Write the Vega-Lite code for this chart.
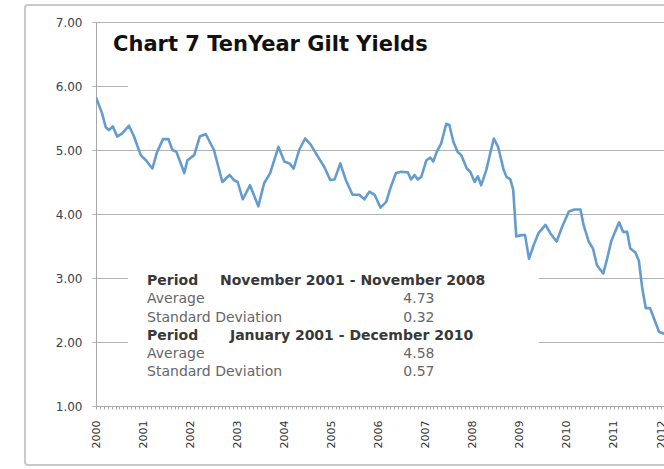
{
  "$schema": "https://vega.github.io/schema/vega-lite/v6.json",
  "autosize": {"type": "none"},
  "padding": {"left": 96, "top": 22, "right": 0, "bottom": 63},
  "width": 568,
  "height": 384,
  "background": "white",
  "config": {
    "view": {"stroke": null},
    "axis": {"labelFont": "DejaVu Sans", "titleFont": "DejaVu Sans"}
  },
  "encoding": {
    "x": {
      "type": "temporal",
      "scale": {"domain": [{"year": 2000, "month": 1, "date": 1}, {"year": 2012, "month": 1, "date": 24}], "nice": false},
      "axis": {
        "title": null,
        "orient": "bottom",
        "tickCount": {"interval": "month", "step": 1},
        "labelExpr": "month(datum.value) == 0 ? timeFormat(datum.value, '%Y') : ''",
        "labelAngle": 270,
        "labelAlign": "right",
        "labelBaseline": "middle",
        "labelPadding": 11,
        "labelOverlap": false,
        "labelFlush": false,
        "labelBound": false,
        "labelFontSize": 11,
        "labelColor": "#333333",
        "tickSize": 3,
        "tickColor": "#a8a8a8",
        "domainColor": "#a8a8a8",
        "grid": false
      }
    },
    "y": {
      "type": "quantitative",
      "scale": {"domain": [1, 7], "nice": false, "zero": false},
      "axis": {
        "title": null,
        "values": [1, 2, 3, 4, 5, 6, 7],
        "format": ".2f",
        "grid": true,
        "gridColor": "#b3b3b3",
        "gridWidth": 1,
        "tickSize": 4,
        "tickColor": "#b3b3b3",
        "domainColor": "#a8a8a8",
        "labelPadding": 10,
        "labelFontSize": 12,
        "labelColor": "#3a3f4f"
      }
    }
  },
  "layer": [
    {
      "data": {"values": [{}]},
      "mark": {"type": "rect", "filled": false, "stroke": "#c9c9c9", "strokeWidth": 2, "cornerRadius": 3, "clip": false},
      "encoding": {
        "x": {"datum": {"year": 1998, "month": 6, "date": 29}, "type": "temporal"},
        "x2": {"datum": {"year": 2013, "month": 6, "date": 1}},
        "y": {"datum": 7.266, "type": "quantitative"},
        "y2": {"datum": 0.078}
      }
    },
    {
      "data": {"values": [{}]},
      "mark": {"type": "rect", "fill": "white", "strokeWidth": 0, "clip": false},
      "encoding": {
        "x": {"datum": {"year": 2000, "month": 9, "date": 5}, "type": "temporal"},
        "x2": {"datum": {"year": 2013, "month": 6, "date": 1}},
        "y": {"datum": 5.9, "type": "quantitative"},
        "y2": {"datum": 6.6}
      }
    },
    {
      "data": {"values": [{}]},
      "mark": {"type": "rect", "fill": "white", "strokeWidth": 0, "clip": false},
      "encoding": {
        "x": {"datum": {"year": 2000, "month": 9, "date": 5}, "type": "temporal"},
        "x2": {"datum": {"year": 2009, "month": 5, "date": 29}},
        "y": {"datum": 1.85, "type": "quantitative"},
        "y2": {"datum": 3.12}
      }
    },
    {
      "data": {"values": [
        {"date": "2000-01-01", "yield": 5.82},
        {"date": "2000-02-16", "yield": 5.58},
        {"date": "2000-03-16", "yield": 5.36},
        {"date": "2000-04-10", "yield": 5.31},
        {"date": "2000-05-10", "yield": 5.37},
        {"date": "2000-06-13", "yield": 5.21},
        {"date": "2000-07-22", "yield": 5.26},
        {"date": "2000-09-13", "yield": 5.38},
        {"date": "2000-10-22", "yield": 5.21},
        {"date": "2000-12-13", "yield": 4.92},
        {"date": "2001-01-22", "yield": 4.84},
        {"date": "2001-03-13", "yield": 4.71},
        {"date": "2001-04-19", "yield": 4.97},
        {"date": "2001-06-04", "yield": 5.17},
        {"date": "2001-07-16", "yield": 5.17},
        {"date": "2001-08-16", "yield": 5.00},
        {"date": "2001-09-16", "yield": 4.97},
        {"date": "2001-11-16", "yield": 4.64},
        {"date": "2001-12-10", "yield": 4.84},
        {"date": "2002-02-01", "yield": 4.92},
        {"date": "2002-03-16", "yield": 5.21},
        {"date": "2002-05-01", "yield": 5.25},
        {"date": "2002-07-04", "yield": 5.00},
        {"date": "2002-09-07", "yield": 4.50},
        {"date": "2002-11-01", "yield": 4.61},
        {"date": "2002-12-07", "yield": 4.53},
        {"date": "2003-01-04", "yield": 4.50},
        {"date": "2003-02-13", "yield": 4.23},
        {"date": "2003-04-10", "yield": 4.45},
        {"date": "2003-06-13", "yield": 4.12},
        {"date": "2003-07-28", "yield": 4.48},
        {"date": "2003-09-13", "yield": 4.64},
        {"date": "2003-11-16", "yield": 5.05},
        {"date": "2004-01-01", "yield": 4.82},
        {"date": "2004-02-10", "yield": 4.79},
        {"date": "2004-03-13", "yield": 4.71},
        {"date": "2004-04-25", "yield": 5.00},
        {"date": "2004-06-10", "yield": 5.18},
        {"date": "2004-07-25", "yield": 5.08},
        {"date": "2004-09-16", "yield": 4.90},
        {"date": "2004-11-07", "yield": 4.73},
        {"date": "2004-12-22", "yield": 4.53},
        {"date": "2005-01-25", "yield": 4.54},
        {"date": "2005-03-10", "yield": 4.79},
        {"date": "2005-04-22", "yield": 4.53},
        {"date": "2005-06-13", "yield": 4.30},
        {"date": "2005-08-04", "yield": 4.30},
        {"date": "2005-09-13", "yield": 4.23},
        {"date": "2005-10-22", "yield": 4.35},
        {"date": "2005-12-01", "yield": 4.30},
        {"date": "2006-01-16", "yield": 4.10},
        {"date": "2006-03-01", "yield": 4.19},
        {"date": "2006-04-07", "yield": 4.43},
        {"date": "2006-05-16", "yield": 4.64},
        {"date": "2006-06-25", "yield": 4.66},
        {"date": "2006-08-16", "yield": 4.65},
        {"date": "2006-09-10", "yield": 4.54},
        {"date": "2006-10-07", "yield": 4.61},
        {"date": "2006-11-01", "yield": 4.54},
        {"date": "2006-11-28", "yield": 4.58},
        {"date": "2007-01-07", "yield": 4.84},
        {"date": "2007-02-07", "yield": 4.88},
        {"date": "2007-03-01", "yield": 4.82},
        {"date": "2007-03-28", "yield": 4.97},
        {"date": "2007-05-01", "yield": 5.10},
        {"date": "2007-06-10", "yield": 5.41},
        {"date": "2007-07-04", "yield": 5.39},
        {"date": "2007-08-04", "yield": 5.13},
        {"date": "2007-09-07", "yield": 4.97},
        {"date": "2007-10-04", "yield": 4.92},
        {"date": "2007-11-16", "yield": 4.71},
        {"date": "2007-12-13", "yield": 4.66},
        {"date": "2008-01-16", "yield": 4.50},
        {"date": "2008-02-10", "yield": 4.59},
        {"date": "2008-03-07", "yield": 4.45},
        {"date": "2008-04-16", "yield": 4.69},
        {"date": "2008-05-16", "yield": 4.95},
        {"date": "2008-06-13", "yield": 5.18},
        {"date": "2008-07-16", "yield": 5.05},
        {"date": "2008-08-28", "yield": 4.69},
        {"date": "2008-09-19", "yield": 4.58},
        {"date": "2008-10-19", "yield": 4.54},
        {"date": "2008-11-10", "yield": 4.38},
        {"date": "2008-12-04", "yield": 3.65},
        {"date": "2009-01-13", "yield": 3.67},
        {"date": "2009-02-10", "yield": 3.67},
        {"date": "2009-03-13", "yield": 3.30},
        {"date": "2009-04-19", "yield": 3.52},
        {"date": "2009-05-25", "yield": 3.70},
        {"date": "2009-07-19", "yield": 3.83},
        {"date": "2009-08-25", "yield": 3.70},
        {"date": "2009-10-13", "yield": 3.57},
        {"date": "2009-11-25", "yield": 3.80},
        {"date": "2010-01-16", "yield": 4.04},
        {"date": "2010-03-01", "yield": 4.07},
        {"date": "2010-04-16", "yield": 4.07},
        {"date": "2010-05-10", "yield": 3.83},
        {"date": "2010-06-19", "yield": 3.57},
        {"date": "2010-07-22", "yield": 3.46},
        {"date": "2010-08-22", "yield": 3.20},
        {"date": "2010-10-10", "yield": 3.07},
        {"date": "2010-11-10", "yield": 3.31},
        {"date": "2010-12-10", "yield": 3.57},
        {"date": "2011-01-07", "yield": 3.71},
        {"date": "2011-02-10", "yield": 3.87},
        {"date": "2011-03-13", "yield": 3.72},
        {"date": "2011-04-13", "yield": 3.72},
        {"date": "2011-05-07", "yield": 3.46},
        {"date": "2011-06-16", "yield": 3.40},
        {"date": "2011-07-13", "yield": 3.27},
        {"date": "2011-08-07", "yield": 2.86},
        {"date": "2011-09-04", "yield": 2.53},
        {"date": "2011-10-07", "yield": 2.53},
        {"date": "2011-11-07", "yield": 2.37},
        {"date": "2011-12-16", "yield": 2.16},
        {"date": "2012-01-25", "yield": 2.13}
      ]},
      "mark": {"type": "line", "color": "#659ccf", "strokeWidth": 2.6, "strokeJoin": "round", "clip": true},
      "encoding": {
        "x": {"field": "date", "type": "temporal"},
        "y": {"field": "yield", "type": "quantitative"}
      }
    },
    {
      "data": {"values": [{}]},
      "mark": {"type": "text", "text": "Chart 7 TenYear Gilt Yields", "font": "DejaVu Sans", "fontWeight": "bold", "fontSize": 21, "align": "left", "baseline": "alphabetic", "color": "#111111", "clip": false},
      "encoding": {
        "x": {"datum": {"year": 2000, "month": 5, "date": 12}, "type": "temporal"},
        "y": {"datum": 6.547, "type": "quantitative"}
      }
    },
    {
      "data": {"values": [{}]},
      "mark": {"type": "text", "text": "Period", "font": "DejaVu Sans", "fontWeight": "bold", "fontSize": 14, "align": "left", "baseline": "alphabetic", "color": "#383838"},
      "encoding": {
        "x": {"datum": {"year": 2001, "month": 1, "date": 31}, "type": "temporal"},
        "y": {"datum": 2.883, "type": "quantitative"}
      }
    },
    {
      "data": {"values": [{}]},
      "mark": {"type": "text", "text": "November   2001 - November 2008", "font": "DejaVu Sans", "fontWeight": "bold", "fontSize": 14, "align": "left", "baseline": "alphabetic", "color": "#383838"},
      "encoding": {
        "x": {"datum": {"year": 2002, "month": 8, "date": 20}, "type": "temporal"},
        "y": {"datum": 2.883, "type": "quantitative"}
      }
    },
    {
      "data": {"values": [{}]},
      "mark": {"type": "text", "text": "Average", "font": "DejaVu Sans", "fontSize": 14, "align": "left", "baseline": "alphabetic", "color": "#666666"},
      "encoding": {
        "x": {"datum": {"year": 2001, "month": 1, "date": 31}, "type": "temporal"},
        "y": {"datum": 2.602, "type": "quantitative"}
      }
    },
    {
      "data": {"values": [{}]},
      "mark": {"type": "text", "text": "4.73", "font": "DejaVu Sans", "fontSize": 14, "align": "center", "baseline": "alphabetic", "color": "#666666"},
      "encoding": {
        "x": {"datum": {"year": 2006, "month": 11, "date": 10}, "type": "temporal"},
        "y": {"datum": 2.602, "type": "quantitative"}
      }
    },
    {
      "data": {"values": [{}]},
      "mark": {"type": "text", "text": "Standard Deviation", "font": "DejaVu Sans", "fontSize": 14, "align": "left", "baseline": "alphabetic", "color": "#666666"},
      "encoding": {
        "x": {"datum": {"year": 2001, "month": 1, "date": 31}, "type": "temporal"},
        "y": {"datum": 2.32, "type": "quantitative"}
      }
    },
    {
      "data": {"values": [{}]},
      "mark": {"type": "text", "text": "0.32", "font": "DejaVu Sans", "fontSize": 14, "align": "center", "baseline": "alphabetic", "color": "#666666"},
      "encoding": {
        "x": {"datum": {"year": 2006, "month": 11, "date": 10}, "type": "temporal"},
        "y": {"datum": 2.32, "type": "quantitative"}
      }
    },
    {
      "data": {"values": [{}]},
      "mark": {"type": "text", "text": "Period", "font": "DejaVu Sans", "fontWeight": "bold", "fontSize": 14, "align": "left", "baseline": "alphabetic", "color": "#383838"},
      "encoding": {
        "x": {"datum": {"year": 2001, "month": 1, "date": 31}, "type": "temporal"},
        "y": {"datum": 2.039, "type": "quantitative"}
      }
    },
    {
      "data": {"values": [{}]},
      "mark": {"type": "text", "text": "January  2001  - December 2010", "font": "DejaVu Sans", "fontWeight": "bold", "fontSize": 14, "align": "left", "baseline": "alphabetic", "color": "#383838"},
      "encoding": {
        "x": {"datum": {"year": 2002, "month": 11, "date": 5}, "type": "temporal"},
        "y": {"datum": 2.039, "type": "quantitative"}
      }
    },
    {
      "data": {"values": [{}]},
      "mark": {"type": "text", "text": "Average", "font": "DejaVu Sans", "fontSize": 14, "align": "left", "baseline": "alphabetic", "color": "#666666"},
      "encoding": {
        "x": {"datum": {"year": 2001, "month": 1, "date": 31}, "type": "temporal"},
        "y": {"datum": 1.75, "type": "quantitative"}
      }
    },
    {
      "data": {"values": [{}]},
      "mark": {"type": "text", "text": "4.58", "font": "DejaVu Sans", "fontSize": 14, "align": "center", "baseline": "alphabetic", "color": "#666666"},
      "encoding": {
        "x": {"datum": {"year": 2006, "month": 11, "date": 10}, "type": "temporal"},
        "y": {"datum": 1.75, "type": "quantitative"}
      }
    },
    {
      "data": {"values": [{}]},
      "mark": {"type": "text", "text": "Standard Deviation", "font": "DejaVu Sans", "fontSize": 14, "align": "left", "baseline": "alphabetic", "color": "#666666"},
      "encoding": {
        "x": {"datum": {"year": 2001, "month": 1, "date": 31}, "type": "temporal"},
        "y": {"datum": 1.461, "type": "quantitative"}
      }
    },
    {
      "data": {"values": [{}]},
      "mark": {"type": "text", "text": "0.57", "font": "DejaVu Sans", "fontSize": 14, "align": "center", "baseline": "alphabetic", "color": "#666666"},
      "encoding": {
        "x": {"datum": {"year": 2006, "month": 11, "date": 10}, "type": "temporal"},
        "y": {"datum": 1.461, "type": "quantitative"}
      }
    }
  ]
}
